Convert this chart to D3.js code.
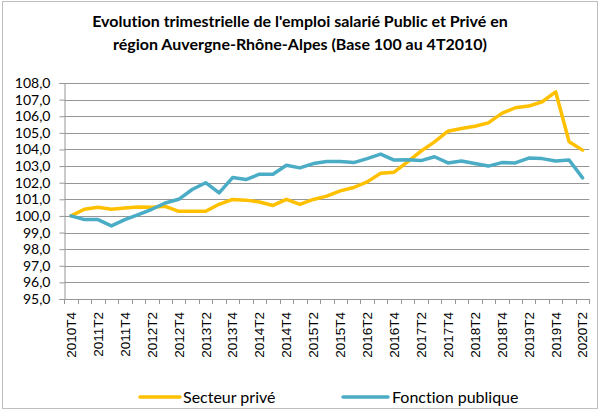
<!DOCTYPE html>
<html><head><meta charset="utf-8">
<script src="https://cdn.jsdelivr.net/npm/d3@7"></script>
<style>body{margin:0;background:#fff}svg{display:block}text{font-variant-ligatures:none;font-feature-settings:"liga" 0}</style>
</head><body>
<svg id="c" width="601" height="412"></svg>
<script>
const categories = ["2010T4","2011T1","2011T2","2011T3","2011T4","2012T1","2012T2","2012T3","2012T4","2013T1","2013T2","2013T3","2013T4","2014T1","2014T2","2014T3","2014T4","2015T1","2015T2","2015T3","2015T4","2016T1","2016T2","2016T3","2016T4","2017T1","2017T2","2017T3","2017T4","2018T1","2018T2","2018T3","2018T4","2019T1","2019T2","2019T3","2019T4","2020T1","2020T2"];
const prive = [100.0,100.4,100.52,100.4,100.48,100.54,100.52,100.58,100.28,100.28,100.28,100.7,100.99,100.95,100.84,100.63,100.99,100.69,100.99,101.19,101.51,101.71,102.05,102.57,102.63,103.25,103.9,104.46,105.1,105.26,105.4,105.6,106.17,106.51,106.61,106.87,107.47,104.46,103.96];
const publique = [100.0,99.78,99.78,99.4,99.78,100.08,100.4,100.78,101.0,101.59,102.0,101.39,102.31,102.19,102.51,102.51,103.05,102.89,103.15,103.27,103.27,103.21,103.45,103.72,103.36,103.38,103.33,103.56,103.19,103.31,103.15,103.0,103.21,103.19,103.48,103.45,103.31,103.37,102.29];
const yTicks = [95,96,97,98,99,100,101,102,103,104,105,106,107,108];
const seriesNames = ["Secteur privé","Fonction publique"];
const colors = ["#FFC000","#4BACC6"];
const titleLines = ["Evolution trimestrielle de l'emploi salarié Public et Privé en","région Auvergne-Rhône-Alpes (Base 100 au 4T2010)"];

const svg = d3.select("#c");
const L = 64.3, R = 589.3, T = 83, B = 299;
const x = d3.scaleBand().domain(categories).range([L, R]);
const y = d3.scaleLinear().domain([95,108]).range([B, T]);
const cx = c => x(c) + x.bandwidth()/2;

svg.append("rect").attr("x",2.5).attr("y",1.5).attr("width",595).attr("height",407)
  .attr("fill","#fff").attr("stroke","#BFBFBF").attr("stroke-width",1);

svg.selectAll("text.title").data(titleLines).join("text")
  .attr("x",300).attr("y",(d,i)=>27+i*23).attr("text-anchor","middle")
  .attr("font-family","Lato, 'Open Sans', sans-serif").attr("font-weight","bold")
  .attr("font-size",16).attr("fill","#000").text(d=>d);

// gridlines
svg.append("g").selectAll("line").data(yTicks.filter(v=>v>95)).join("line")
  .attr("x1",L).attr("x2",R).attr("y1",d=>Math.round(y(d))+0.5).attr("y2",d=>Math.round(y(d))+0.5)
  .attr("stroke","#969696").attr("stroke-width",1);

// y axis
const ya = svg.append("g").attr("transform",`translate(${Math.round(L)+0.5},0)`)
  .call(d3.axisLeft(y).tickValues(yTicks).tickSize(5).tickPadding(9)
    .tickFormat(d=>d3.format(".1f")(d).replace(".",",")));
ya.select(".domain").attr("stroke","#969696");
ya.selectAll(".tick line").attr("stroke","#969696");
ya.selectAll(".tick text").attr("font-family","Lato, 'Open Sans', sans-serif").attr("font-size",14).attr("fill","#000");

// x axis line and boundary ticks
const xb = categories.map(c=>x(c)).concat([R]);
svg.append("line").attr("x1",L).attr("x2",R).attr("y1",Math.round(B)+0.5).attr("y2",Math.round(B)+0.5).attr("stroke","#969696");
svg.append("g").selectAll("line").data(xb).join("line")
  .attr("x1",d=>Math.round(d)+0.5).attr("x2",d=>Math.round(d)+0.5)
  .attr("y1",B).attr("y2",B+5).attr("stroke","#969696");

// x labels
const xa = svg.append("g").attr("transform",`translate(0,${B})`)
  .call(d3.axisBottom(x).tickValues(categories.filter((c,i)=>i%2===0)).tickSize(0));
xa.select(".domain").remove();
xa.selectAll(".tick text")
  .attr("font-family","'Liberation Sans', Arial, sans-serif").attr("font-size",13.5).attr("fill","#000")
  .attr("text-anchor","end").attr("transform","rotate(-90)")
  .attr("x",-13).attr("y",0).attr("dy","0.36em");

// lines
const line = d3.line().x((d,i)=>cx(categories[i])).y(d=>y(d));
[prive, publique].forEach((s,k)=>{
  svg.append("path").datum(s).attr("d",line).attr("fill","none")
    .attr("stroke",colors[k]).attr("stroke-width",3.5).attr("stroke-linejoin","round").attr("stroke-linecap","round");
});

// legend
const lg = [{x1:140,x2:180,tx:183},{x1:343,x2:388,tx:392}];
seriesNames.forEach((n,k)=>{
  svg.append("line").attr("x1",lg[k].x1).attr("x2",lg[k].x2).attr("y1",397).attr("y2",397)
    .attr("stroke",colors[k]).attr("stroke-width",3.5).attr("stroke-linecap","round");
  svg.append("text").attr("x",lg[k].tx).attr("y",397).attr("dy","0.35em")
    .attr("font-family","Lato, 'Open Sans', sans-serif").attr("font-size",16).attr("fill","#000").text(n);
});
</script>
</body></html>
